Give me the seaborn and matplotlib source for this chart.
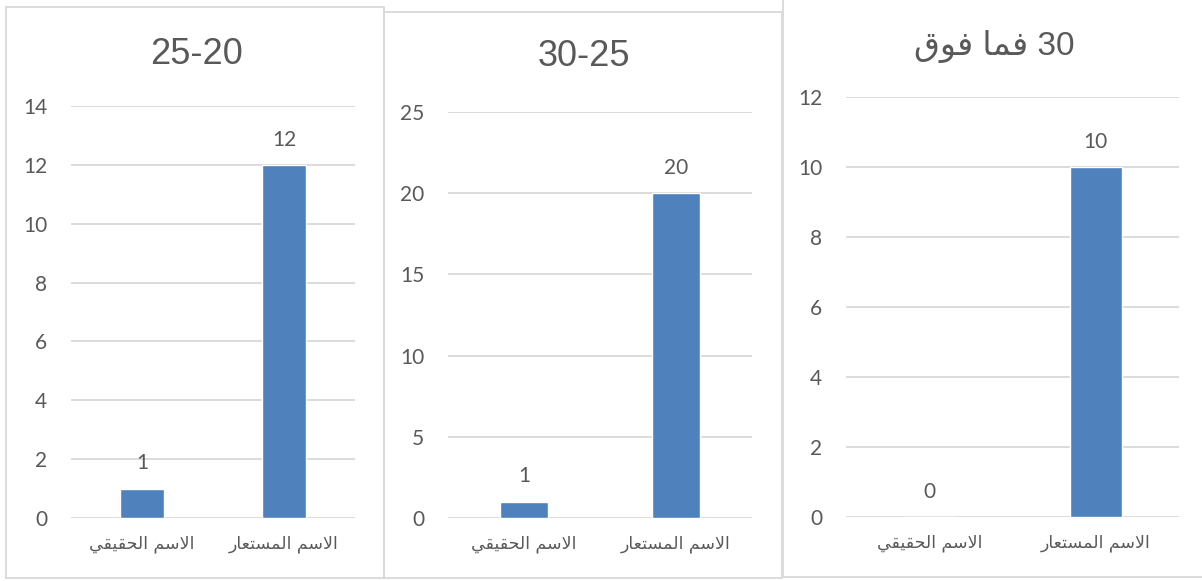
import matplotlib
matplotlib.use("Agg")
import matplotlib.pyplot as plt
import seaborn as sns
import pandas as pd
from matplotlib.patches import Rectangle

# ---------------- data ----------------
categories = ["الاسم الحقيقي", "الاسم المستعار"]
titles = ["25-20", "30-25", "30 فما فوق"]
values_20_25 = [1, 12]
values_25_30 = [1, 20]
values_30_plus = [0, 10]
yticks_20_25 = [0, 2, 4, 6, 8, 10, 12, 14]
yticks_25_30 = [0, 5, 10, 15, 20, 25]
yticks_30_plus = [0, 2, 4, 6, 8, 10, 12]

# ---------------- minimal Arabic shaping (presentation forms) ----------------
FORMS = {  # isol, fina, init, medi
    "ا": ("\uFE8D", "\uFE8E", None, None),
    "ر": ("\uFEAD", "\uFEAE", None, None),
    "و": ("\uFEED", "\uFEEE", None, None),
    "ل": ("\uFEDD", "\uFEDE", "\uFEDF", "\uFEE0"),
    "س": ("\uFEB1", "\uFEB2", "\uFEB3", "\uFEB4"),
    "م": ("\uFEE1", "\uFEE2", "\uFEE3", "\uFEE4"),
    "ح": ("\uFEA1", "\uFEA2", "\uFEA3", "\uFEA4"),
    "ق": ("\uFED5", "\uFED6", "\uFED7", "\uFED8"),
    "ي": ("\uFEF1", "\uFEF2", "\uFEF3", "\uFEF4"),
    "ت": ("\uFE95", "\uFE96", "\uFE97", "\uFE98"),
    "ع": ("\uFEC9", "\uFECA", "\uFECB", "\uFECC"),
    "ف": ("\uFED1", "\uFED2", "\uFED3", "\uFED4"),
    "لا": ("\uFEFB", "\uFEFC", None, None),
}


def shape_word(word):
    toks = []
    i = 0
    while i < len(word):
        if word[i] == "ل" and i + 1 < len(word) and word[i + 1] == "ا":
            toks.append("لا")
            i += 2
        else:
            toks.append(word[i])
            i += 1
    out = []
    for k, t in enumerate(toks):
        if t not in FORMS:
            out.append(t)
            continue
        f = FORMS[t]
        prev = toks[k - 1] if k > 0 else None
        nxt = toks[k + 1] if k + 1 < len(toks) else None
        jp = prev in FORMS and FORMS[prev][2] is not None
        jn = f[2] is not None and nxt in FORMS
        if jp and jn:
            out.append(f[3])
        elif jp:
            out.append(f[1])
        elif jn:
            out.append(f[2])
        else:
            out.append(f[0])
    return "".join(out)


def visual(text):
    words = text.split(" ")
    res = []
    for w in reversed(words):
        if any(ch in FORMS for ch in w):
            res.append(shape_word(w)[::-1])
        else:
            res.append(w)
    return " ".join(res)


# ---------------- figure ----------------
sns.set_theme(style="white")
plt.rcParams["font.family"] = ["Lato", "DejaVu Sans"]
TXT = "#595959"
BAR = "#4F81BD"
GRID = "#D9D9D9"

W, H = 1202, 581
fig = plt.figure(figsize=(W / 100, H / 100), dpi=100)
fig.patch.set_facecolor("white")

panels = [
    dict(vals=values_20_25, ticks=yticks_20_25, title=titles[0], tfs=26,
         ax=(71, 355, 106, 518), box=(6, 384, 7, 578), tcx=196, tby=64),
    dict(vals=values_25_30, ticks=yticks_25_30, title=titles[1], tfs=26,
         ax=(448, 752, 112, 518), box=(384, 782, 12, 578), tcx=584, tby=66),
    dict(vals=values_30_plus, ticks=yticks_30_plus, title=titles[2], tfs=24,
         ax=(846, 1179, 97, 517), box=(783, 1210, -5, 577), tcx=994, tby=55),
]

for p in panels:
    x0, x1, yt, yb = p["box"]
    fig.patches.append(Rectangle((x0 / W, 1 - yb / H), (x1 - x0) / W, (yb - yt) / H,
                                 transform=fig.transFigure, fill=False,
                                 edgecolor=GRID, linewidth=1.3, zorder=0))
    l, r, t, b = p["ax"]
    ax = fig.add_axes([l / W, 1 - b / H, (r - l) / W, (b - t) / H])
    df = pd.DataFrame({"cat": [visual(c) for c in categories], "val": p["vals"]})
    sns.barplot(data=df, x="cat", y="val", ax=ax, color=BAR, width=0.31,
                saturation=1, zorder=3)
    ax.set_xlim(-0.5, 1.5)
    ax.set_ylim(p["ticks"][0], p["ticks"][-1])
    ax.set_yticks(p["ticks"])
    ax.grid(axis="y", color=GRID, linewidth=1.3, zorder=0)
    ax.set_axisbelow(True)
    for s in ax.spines.values():
        s.set_visible(False)
    ax.set_xlabel("")
    ax.set_ylabel("")
    ax.tick_params(axis="y", length=0, pad=17, labelsize=15, labelcolor=TXT)
    ax.tick_params(axis="x", length=0, pad=12, labelsize=12.5, labelcolor=TXT)
    for lab in ax.get_xticklabels():
        lab.set_fontfamily(["DejaVu Sans"])
    for c in ax.containers:
        ax.bar_label(c, labels=[str(v) for v in p["vals"]], padding=11,
                     fontsize=15, color=TXT)
    fig.text(p["tcx"] / W, 1 - p["tby"] / H, visual(p["title"]),
             ha="center", va="baseline", fontsize=p["tfs"], color=TXT,
             family=["Liberation Sans", "DejaVu Sans"])

fig.savefig("out.png", dpi=100, facecolor="white")
